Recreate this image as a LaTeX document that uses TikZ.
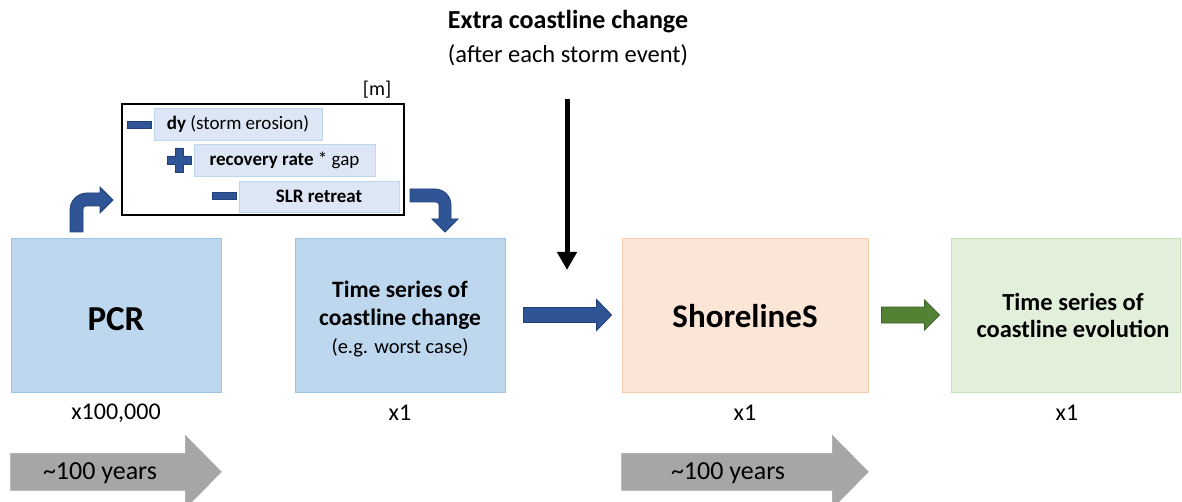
\documentclass[tikz,border=0pt]{standalone}
\usepackage{fontspec}
\setmainfont{Carlito}
\usetikzlibrary{calc,arrows.meta}

\definecolor{pcrfill}{HTML}{BDD7EE}
\definecolor{pcrline}{HTML}{9DC3E6}
\definecolor{shorefill}{HTML}{FBE5D6}
\definecolor{shoreline}{HTML}{F8CBAD}
\definecolor{evofill}{HTML}{E2EFDA}
\definecolor{evoline}{HTML}{C5E0B4}
\definecolor{navy}{HTML}{2F5597}
\definecolor{navyline}{HTML}{22407A}
\definecolor{leaf}{HTML}{548235}
\definecolor{leafline}{HTML}{3D6126}
\definecolor{timegray}{HTML}{A6A6A6}
\definecolor{termfill}{HTML}{DCE6F4}
\definecolor{termline}{HTML}{BDD7EE}

\newcommand\fsz[2]{\fontsize{#1}{#2}\selectfont}

\begin{document}
\begin{tikzpicture}[x=1pt,y=-1pt,
  panel/.style={rectangle, line width=0.8pt, inner sep=0pt},
  txt/.style={inner sep=0pt, align=center, text=black},
  termbox/.style={rectangle, fill=termfill, draw=termline, line width=0.8pt,
                  inner sep=0pt, font=\fsz{19}{23}},
  blockarrow/.style n args={3}{to path={let \p1=(\tikztostart),\p2=(\tikztotarget) in
      (\x1,\y1+#1) -- (\x2-#3,\y1+#1) -- (\x2-#3,\y1+#2) -- (\x2,\y1)
      -- (\x2-#3,\y1-#2) -- (\x2-#3,\y1-#1) -- (\x1,\y1-#1) -- cycle}},
  navyshape/.style={fill=navy, draw=navyline, line width=0.8pt, line join=miter},
]
\useasboundingbox (0,0) rectangle (1182,502);

% heading above the storm input
\node[txt, font=\fsz{26}{30}\bfseries] (title) at (568,22) {Extra coastline change};
\node[txt, font=\fsz{24.5}{28}] (sub) at (568,55) {(after each storm event)};

% main blocks
\node[panel, fill=pcrfill, draw=pcrline, minimum width=210, minimum height=154] (pcr) at (116,315) {};
\node[panel, fill=pcrfill, draw=pcrline, minimum width=210, minimum height=154] (ts) at (400,315) {};
\node[panel, fill=shorefill, draw=shoreline, minimum width=246, minimum height=154] (shore) at (745,315) {};
\node[panel, fill=evofill, draw=evoline, minimum width=229, minimum height=154] (evo) at (1065.5,315) {};

\node[txt, font=\fsz{35}{40}\bfseries] (pcrtext) at (116,319) {PCR};
\node[txt, font=\fsz{23.5}{28}\bfseries] (tstext) at (400,319) {Time series of\\coastline change\\
  \fsz{20.5}{28}\mdseries (e.g. worst case)};
\node[txt, font=\fsz{33}{38}\bfseries] (shoretext) at (745,316) {ShorelineS};
\node[txt, font=\fsz{24.5}{27}\bfseries] (evotext) at (1073,315) {Time series of\\coastline evolution};

% number of runs below each block
\node[txt, font=\fsz{24}{28}] (n1) at (116,413) {x100,000};
\node[txt, font=\fsz{24}{28}] (n2) at (400,413) {x1};
\node[txt, font=\fsz{24}{28}] (n3) at (745,413) {x1};
\node[txt, font=\fsz{24}{28}] (n4) at (1067,413) {x1};

% simulated period
\draw[blockarrow={18.5pt}{36.5pt}{36pt}, fill=timegray, draw=timegray]
  ($(pcr.south west)+(0,79.5)$) to ($(pcr.south east)+(0,79.5)$);
\node[txt, font=\fsz{26}{30}] (yr1) at (100,473) {\textasciitilde100 years};
\draw[blockarrow={18.5pt}{36.5pt}{36pt}, fill=timegray, draw=timegray]
  ($(shore.south west)+(0,79.5)$) to ($(shore.south east)+(0,79.5)$);
\node[txt, font=\fsz{26}{30}] (yr2) at (728,473) {\textasciitilde100 years};

% coastline change budget
\node[panel, draw=black, line width=1.4pt, minimum width=282, minimum height=111] (budget) at (263,159.5) {};
\node[txt, font=\fsz{20}{24}] (unit) at (377,90) {[m]};
\node[termbox, minimum width=168, minimum height=32] (t1) at (238,124) {\textbf{dy} (storm erosion)};
\node[termbox, minimum width=181, minimum height=32] (t2) at (284.5,160) {\textbf{recovery rate} * gap};
\node[termbox, minimum width=160, minimum height=31] (t3) at (319,196.5) {\textbf{SLR retreat}};

% signs of the terms
\draw[navyshape] (127,121.5) rectangle (151,128.5);
\draw[navyshape] (175,148) -- (183,148) -- (183,156) -- (191,156) -- (191,164) -- (183,164)
  -- (183,172) -- (175,172) -- (175,164) -- (167,164) -- (167,156) -- (175,156) -- cycle;
\draw[navyshape] (212,192) rectangle (236,199);

% bent arrows into and out of the budget
\draw[navyshape] (70,232) -- (70,210) .. controls (70,200.6) and (77.6,193) .. (87,193)
  -- (100,193) -- (100,187) -- (113,200) -- (100,213) -- (100,206) -- (86,206)
  .. controls (84,206) and (83,207) .. (83,209) -- (83,232) -- cycle;
\draw[navyshape] (410,189) -- (435,189) .. controls (443.8,189) and (451,196.2) .. (451,205)
  -- (451,219) -- (458,219) -- (445,232) -- (432,219) -- (439,219) -- (439,205)
  .. controls (439,203) and (438,202) .. (436,202) -- (410,202) -- cycle;

% storm input
\coordinate (stormtop) at (567,99);
\coordinate (stormhit) at (567,270);
\draw[line width=5pt, -{Triangle[length=18pt,width=19pt]}] (stormtop) -- (stormhit);

% flow between blocks
\draw[blockarrow={7.5pt}{15.5pt}{15pt}, fill=navy, draw=navyline, line width=0.8pt]
  ($(ts.east)+(18,0)$) to ($(shore.west)+(-10,0)$);
\draw[blockarrow={8pt}{15pt}{15pt}, fill=leaf, draw=leafline, line width=0.8pt]
  ($(shore.east)+(13,0)$) to ($(evo.west)+(-11,0)$);
\end{tikzpicture}
\end{document}
